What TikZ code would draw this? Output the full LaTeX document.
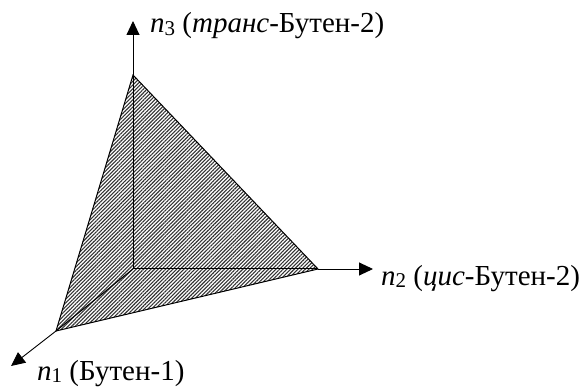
\documentclass[tikz,border=0pt]{standalone}
\usepackage{fontspec}
\setmainfont{Liberation Serif}
\usetikzlibrary{arrows.meta,patterns.meta}
\newcommand{\nsub}[2]{\textit{#1}\raisebox{-0.2ex}{\fontsize{21}{21}\selectfont #2}}
\tikzset{
  axisline/.style={line width=0.9pt,-{Triangle[length=14pt,width=13pt]}},
  edge/.style={line width=1pt},
  face/.style={pattern={Lines[angle=45,distance=2.6pt,line width=1.1pt]},pattern color=black!80},
  lab/.style={anchor=base west,inner sep=0pt,font=\fontsize{29}{32}\selectfont}
}
\begin{document}
\begin{tikzpicture}[x=1pt,y=-1pt]
\useasboundingbox (0,0) rectangle (586,387);
\coordinate (O) at (133,269);
\coordinate (V3) at (133,75);
\coordinate (V2) at (318,269);
\coordinate (V1) at (56,331);
\coordinate (A3) at (133,21);
\coordinate (A2) at (373,269);
\coordinate (A1) at (11,366);
\fill[white] (V1) -- (V3) -- (V2) -- cycle;
\fill[face] (V1) -- (V3) -- (V2) -- cycle;
\draw[edge] (V1) -- (V3) -- (V2) -- cycle;
\draw[edge] (O) -- (V1);
\draw[edge] (O) -- (V2);
\draw[axisline] (O) -- (A3);
\draw[axisline] (V2) -- (A2);
\draw[axisline] (V1) -- (A1);
\node[lab] (L3) at (150,33) {\nsub{n}{3} (\textit{транс}-Бутен-2)};
\node[lab] (L2) at (381,285) {\nsub{n}{2} (\textit{цис}-Бутен-2)};
\node[lab] (L1) at (37,380) {\nsub{n}{1} (Бутен-1)};
\end{tikzpicture}
\end{document}
